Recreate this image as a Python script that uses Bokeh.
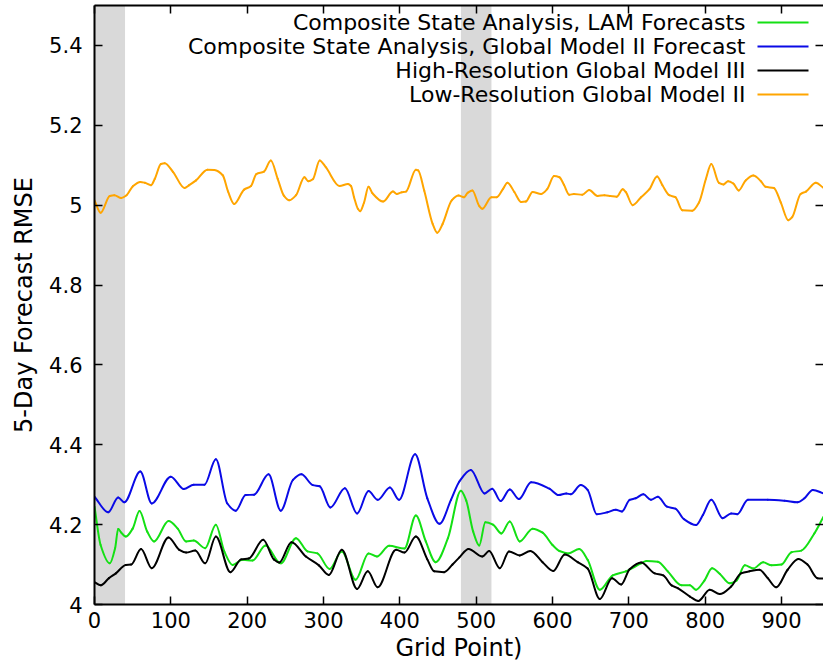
from bokeh.plotting import figure
from bokeh.models import (Range1d, LinearAxis, FixedTicker, CustomJSTickFormatter,
                          CustomLabelingPolicy, BoxAnnotation, Label)
from bokeh.embed import file_html
from bokeh.resources import INLINE

# ---- data -------------------------------------------------------------
lam_x = [0, 8, 20, 27, 31, 35, 41, 50, 59, 69, 78, 97, 109, 120, 130, 145, 159, 170,
         181, 194, 207, 224, 244, 264, 279, 292, 308, 324, 342, 359, 370, 386, 406,
         421, 434, 447, 463, 480, 487, 496, 504, 512, 522, 533, 544, 557, 574, 587,
         600, 609, 621, 635, 646, 662, 679, 696, 716, 723, 738, 751, 769, 780, 788,
         799, 809, 819, 832, 841, 852, 863, 876, 887, 900, 913, 926, 943, 955]
lam_y = [4.245, 4.149, 4.103, 4.141, 4.189, 4.180, 4.170, 4.190, 4.234, 4.183, 4.158,
         4.209, 4.190, 4.158, 4.160, 4.141, 4.200, 4.133, 4.099, 4.112, 4.110, 4.148,
         4.103, 4.166, 4.133, 4.128, 4.089, 4.133, 4.062, 4.128, 4.120, 4.147, 4.140,
         4.223, 4.158, 4.106, 4.166, 4.285, 4.260, 4.183, 4.148, 4.206, 4.200, 4.178,
         4.208, 4.158, 4.190, 4.180, 4.149, 4.134, 4.128, 4.139, 4.112, 4.037, 4.073,
         4.083, 4.103, 4.109, 4.107, 4.083, 4.048, 4.048, 4.037, 4.060, 4.091, 4.077,
         4.053, 4.060, 4.098, 4.090, 4.106, 4.098, 4.100, 4.131, 4.135, 4.178, 4.220]

glob_x = [0, 18, 31, 39, 60, 75, 100, 117, 130, 144, 159, 174, 185, 198, 209, 228, 244,
          260, 271, 286, 295, 309, 328, 344, 359, 371, 387, 399, 420, 436, 452, 467,
          478, 493, 511, 521, 532, 544, 556, 572, 596, 608, 618, 624, 637, 646, 658,
          672, 683, 691, 701, 709, 719, 729, 738, 750, 761, 772, 788, 797, 808, 823,
          834, 842, 856, 882, 904, 921, 930, 941, 955]
glob_y = [4.270, 4.231, 4.268, 4.256, 4.333, 4.253, 4.320, 4.289, 4.300, 4.300, 4.364,
          4.253, 4.235, 4.274, 4.275, 4.326, 4.235, 4.312, 4.326, 4.299, 4.296, 4.243,
          4.291, 4.228, 4.284, 4.262, 4.293, 4.262, 4.376, 4.266, 4.202, 4.262, 4.308,
          4.337, 4.278, 4.290, 4.259, 4.288, 4.264, 4.306, 4.290, 4.274, 4.278, 4.276,
          4.299, 4.287, 4.226, 4.231, 4.237, 4.233, 4.262, 4.266, 4.276, 4.262, 4.270,
          4.245, 4.240, 4.214, 4.199, 4.224, 4.262, 4.216, 4.228, 4.226, 4.262, 4.262,
          4.260, 4.256, 4.266, 4.287, 4.278]

hires_x = [0, 8, 19, 28, 41, 48, 61, 75, 97, 111, 120, 132, 145, 159, 178, 192, 202,
           221, 235, 242, 258, 277, 294, 307, 324, 344, 358, 371, 395, 406, 421, 436,
           445, 458, 469, 478, 490, 508, 517, 531, 543, 557, 571, 587, 601, 616, 633,
           646, 662, 678, 690, 701, 716, 734, 745, 756, 764, 780, 791, 806, 819, 834,
           847, 858, 871, 882, 893, 908, 922, 934, 947, 955]
hires_y = [4.056, 4.048, 4.066, 4.078, 4.099, 4.100, 4.139, 4.091, 4.168, 4.137, 4.130,
           4.135, 4.103, 4.170, 4.081, 4.113, 4.115, 4.162, 4.113, 4.105, 4.156, 4.120,
           4.098, 4.074, 4.137, 4.039, 4.083, 4.043, 4.137, 4.130, 4.170, 4.113, 4.083,
           4.081, 4.100, 4.118, 4.139, 4.120, 4.134, 4.091, 4.133, 4.123, 4.134, 4.106,
           4.084, 4.125, 4.106, 4.090, 4.014, 4.066, 4.050, 4.088, 4.105, 4.078, 4.073,
           4.048, 4.041, 4.020, 4.009, 4.037, 4.026, 4.045, 4.078, 4.083, 4.087, 4.066,
           4.043, 4.087, 4.114, 4.100, 4.066, 4.065]

lores_x = [0, 8, 20, 26, 35, 42, 50, 60, 66, 74, 79, 87, 92, 103, 118, 124, 133, 148,
           157, 168, 175, 183, 196, 205, 212, 222, 231, 240, 248, 255, 264, 275, 280,
           286, 295, 303, 321, 332, 336, 340, 345, 348, 353, 359, 364, 378, 391, 396,
           402, 408, 421, 424, 432, 443, 449, 456, 468, 477, 484, 489, 495, 504, 508,
           520, 527, 535, 541, 550, 559, 565, 574, 585, 593, 602, 609, 615, 622, 628,
           639, 648, 659, 668, 676, 684, 692, 696, 705, 716, 727, 737, 744, 753, 761,
           770, 783, 792, 801, 808, 818, 824, 830, 837, 844, 853, 863, 873, 879, 890,
           899, 909, 914, 925, 932, 945, 955]
lores_y = [5.012, 4.981, 5.023, 5.025, 5.018, 5.025, 5.047, 5.058, 5.056, 5.050, 5.066,
           5.103, 5.105, 5.083, 5.043, 5.050, 5.062, 5.089, 5.088, 5.075, 5.034, 5.003,
           5.039, 5.048, 5.078, 5.084, 5.112, 5.066, 5.024, 5.012, 5.025, 5.070, 5.060,
           5.065, 5.112, 5.095, 5.048, 5.053, 5.048, 5.020, 4.991, 4.985, 5.006, 5.046,
           5.030, 5.009, 5.034, 5.028, 5.032, 5.034, 5.089, 5.087, 5.036, 4.953, 4.931,
           4.953, 5.012, 5.024, 5.020, 5.031, 5.037, 4.998, 4.991, 5.020, 5.020, 5.040,
           5.056, 5.033, 5.008, 5.009, 5.033, 5.028, 5.040, 5.073, 5.070, 5.051, 5.026,
           5.028, 5.026, 5.038, 5.023, 5.025, 5.023, 5.021, 5.040, 5.033, 5.000, 5.020,
           5.040, 5.072, 5.050, 5.025, 5.020, 4.987, 4.986, 5.007, 5.066, 5.103, 5.056,
           5.052, 5.060, 5.054, 5.037, 5.062, 5.074, 5.060, 5.046, 5.043, 5.007, 4.962,
           4.970, 5.028, 5.034, 5.056, 5.043]

band_start = [0, 480]
band_end = [40, 520]

x_ticks = [0, 100, 200, 300, 400, 500, 600, 700, 800, 900]
y_ticks = [4.0, 4.2, 4.4, 4.6, 4.8, 5.0, 5.2, 5.4]

series = [
    ("Composite State Analysis, LAM Forecasts", lam_x, lam_y, "#14e014"),
    ("Composite State Analysis, Global Model II Forecast", glob_x, glob_y, "#0a0ae6"),
    ("High-Resolution Global Model III", hires_x, hires_y, "#000000"),
    ("Low-Resolution Global Model II", lores_x, lores_y, "#ffa500"),
]

FONT = "DejaVu Sans"


def smooth_segments(xs, ys):
    """Cubic Bezier pieces through every sample (monotone Hermite tangents),
    so each curve passes exactly through its values without overshoot."""
    n = len(xs)
    h = [xs[k + 1] - xs[k] for k in range(n - 1)]
    d = [(ys[k + 1] - ys[k]) / h[k] for k in range(n - 1)]
    m = [0.0] * n
    m[0], m[-1] = d[0], d[-1]
    for k in range(1, n - 1):
        if d[k - 1] * d[k] <= 0:
            m[k] = 0.0
        else:
            w1 = 2 * h[k] + h[k - 1]
            w2 = h[k] + 2 * h[k - 1]
            m[k] = (w1 + w2) / (w1 / d[k - 1] + w2 / d[k])
    seg = dict(x0=[], y0=[], x1=[], y1=[], cx0=[], cy0=[], cx1=[], cy1=[])
    for k in range(n - 1):
        seg["x0"].append(xs[k]); seg["y0"].append(ys[k])
        seg["x1"].append(xs[k + 1]); seg["y1"].append(ys[k + 1])
        seg["cx0"].append(xs[k] + h[k] / 3); seg["cy0"].append(ys[k] + m[k] * h[k] / 3)
        seg["cx1"].append(xs[k + 1] - h[k] / 3); seg["cy1"].append(ys[k + 1] - m[k + 1] * h[k] / 3)
    return seg


p = figure(width=823, height=665, output_backend="svg", toolbar_location=None,
           x_range=Range1d(0, 955), y_range=Range1d(4.0, 5.5),
           min_border_left=94, min_border_right=0, min_border_top=5,
           min_border_bottom=61, background_fill_color="white",
           border_fill_color="white")
p.grid.visible = False
p.outline_line_color = None

# shaded intervals
for s, e in zip(band_start, band_end):
    p.add_layout(BoxAnnotation(left=s, right=e, fill_color="#d9d9d9", fill_alpha=1.0,
                               line_color=None, level="underlay"))

for name, xs, ys, col in series:
    seg = smooth_segments(xs, ys)
    p.bezier(x0=seg["x0"], y0=seg["y0"], x1=seg["x1"], y1=seg["y1"],
             cx0=seg["cx0"], cy0=seg["cy0"], cx1=seg["cx1"], cy1=seg["cy1"],
             line_color=col, line_width=2, line_cap="round")

yfmt = CustomJSTickFormatter(code="""
    return Math.abs(tick - Math.round(tick)) < 1e-9 ? tick.toFixed(0) : tick.toFixed(1);
""")
no_labels = CustomLabelingPolicy(code="return new Set()")


def style_axis(ax, label_size="21px"):
    ax.major_tick_in = 8
    ax.major_tick_out = 0
    ax.minor_tick_in = 0
    ax.minor_tick_out = 0
    ax.major_tick_line_width = 1.5
    ax.major_tick_line_color = "black"
    ax.axis_line_width = 2
    ax.axis_line_color = "black"
    ax.major_label_text_font = FONT
    ax.major_label_text_font_size = label_size
    ax.major_label_text_color = "black"
    ax.axis_label_text_font = FONT
    ax.axis_label_text_font_size = "24px"
    ax.axis_label_text_font_style = "normal"
    ax.axis_label_text_color = "black"


xa = p.xaxis[0]
xa.ticker = FixedTicker(ticks=x_ticks)
xa.axis_label = "Grid Point)"
style_axis(xa)
xa.major_label_standoff = 7
xa.axis_label_standoff = 3

ya = p.yaxis[0]
ya.ticker = FixedTicker(ticks=y_ticks)
ya.formatter = yfmt
ya.axis_label = "5-Day Forecast RMSE"
style_axis(ya)
ya.major_label_standoff = 12
ya.axis_label_standoff = 8

# mirrored ticks on the top and right edges, without labels
top = LinearAxis(ticker=FixedTicker(ticks=x_ticks), major_label_policy=no_labels)
style_axis(top, label_size="0px")
top.major_label_standoff = 0
p.add_layout(top, "above")

right = LinearAxis(ticker=FixedTicker(ticks=y_ticks), major_label_policy=no_labels)
style_axis(right, label_size="0px")
right.major_label_standoff = 0
right.axis_line_color = None
p.add_layout(right, "right")

# key: right-aligned titles with a line sample on their right
row_top = 582
row_gap = 24
for i, (name, xs, ys, col) in enumerate(series):
    yy = row_top - i * row_gap
    p.add_layout(Label(x=651, y=yy, x_units="screen", y_units="screen", text=name,
                       text_align="right", text_baseline="middle",
                       text_font=FONT, text_font_size="22px", text_color="black"))
    p.add_layout(BoxAnnotation(left=663, right=714, bottom=yy - 1, top=yy + 1,
                               left_units="screen", right_units="screen",
                               bottom_units="screen", top_units="screen",
                               fill_color=col, fill_alpha=1.0, line_color=None))

open("out.html", "w").write(file_html(p, INLINE))
